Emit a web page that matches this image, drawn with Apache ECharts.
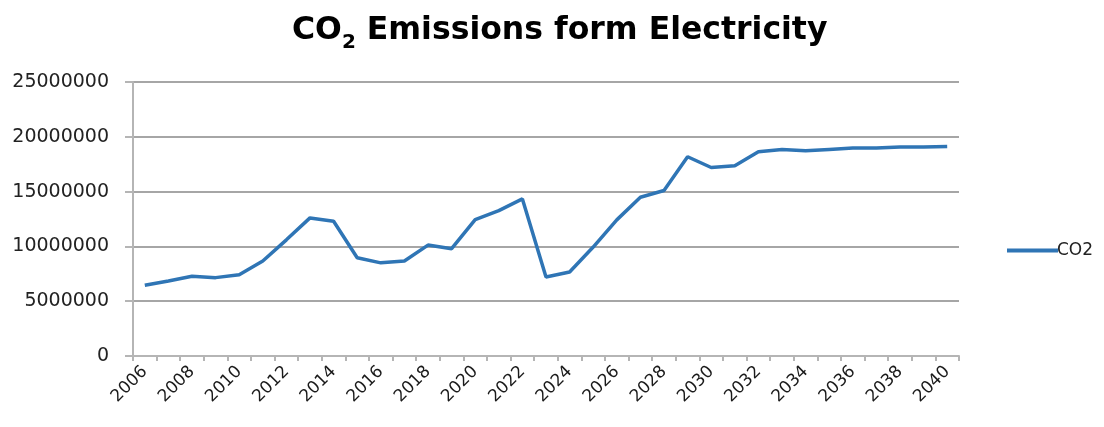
<!DOCTYPE html>
<html>
<head>
<meta charset="utf-8">
<script src="https://cdn.jsdelivr.net/npm/echarts@6/dist/echarts.min.js"></script>
<style>
html,body{margin:0;padding:0;background:#fff;}
#c{width:1104px;height:427px;}
</style>
</head>
<body>
<div id="c"></div>
<script>
const years = ['2006','2007','2008','2009','2010','2011','2012','2013','2014','2015','2016','2017','2018','2019','2020','2021','2022','2023','2024','2025','2026','2027','2028','2029','2030','2031','2032','2033','2034','2035','2036','2037','2038','2039','2040'];
const co2 = [6450000,6850000,7270000,7150000,7420000,8670000,10600000,12600000,12300000,8970000,8500000,8670000,10120000,9790000,12450000,13270000,14330000,7210000,7670000,9940000,12420000,14480000,15100000,18180000,17200000,17360000,18640000,18850000,18730000,18850000,18970000,18980000,19060000,19070000,19120000];
const yTicks = {min:0, max:25000000, interval:5000000};

const chart = echarts.init(document.getElementById('c'));
const font = '"DejaVu Sans", sans-serif';
chart.setOption({
  animation:false,
  backgroundColor:'#fff',
  title:{
    text:'{b|CO}{s|2}{b| Emissions form Electricity}',
    left:287, top:4,
    textStyle:{
      rich:{
        b:{fontFamily:font, fontWeight:'bold', fontSize:31.5, color:'#000', lineHeight:44},
        s:{fontFamily:font, fontWeight:'bold', fontSize:20, color:'#000', verticalAlign:'bottom', padding:[16,0,0,0], lineHeight:44}
      }
    }
  },
  legend:{
    data:['CO2'], left:1002, top:237, orient:'vertical',
    itemWidth:51, itemHeight:4, itemGap:6,
    icon:'rect',
    textStyle:{fontFamily:font, fontSize:17, color:'#222', padding:[0,0,0,-6]}
  },
  grid:{left:133, right:145, top:82, bottom:71},
  xAxis:{
    type:'category', data:years, boundaryGap:true,
    axisLine:{lineStyle:{color:'#b5b5b5', width:2}},
    axisTick:{show:true, interval:0, length:5, lineStyle:{color:'#b5b5b5', width:2}},
    axisLabel:{interval:1, rotate:45, fontFamily:font, fontSize:17, color:'#1a1a1a', margin:13}
  },
  yAxis:{
    type:'value', min:yTicks.min, max:yTicks.max, interval:yTicks.interval,
    axisLine:{show:true, lineStyle:{color:'#b5b5b5', width:2}},
    axisTick:{show:true, length:8, lineStyle:{color:'#b5b5b5', width:2}},
    splitLine:{lineStyle:{color:'#a6a6a6', width:2}},
    axisLabel:{fontFamily:font, fontSize:19, color:'#222', margin:24, formatter:function(v){return String(v);}}
  },
  series:[{
    name:'CO2', type:'line', data:co2, symbol:'none',
    lineStyle:{color:'#2f75b5', width:3.5},
    itemStyle:{color:'#2f75b5'}
  }]
});
</script>
</body>
</html>
